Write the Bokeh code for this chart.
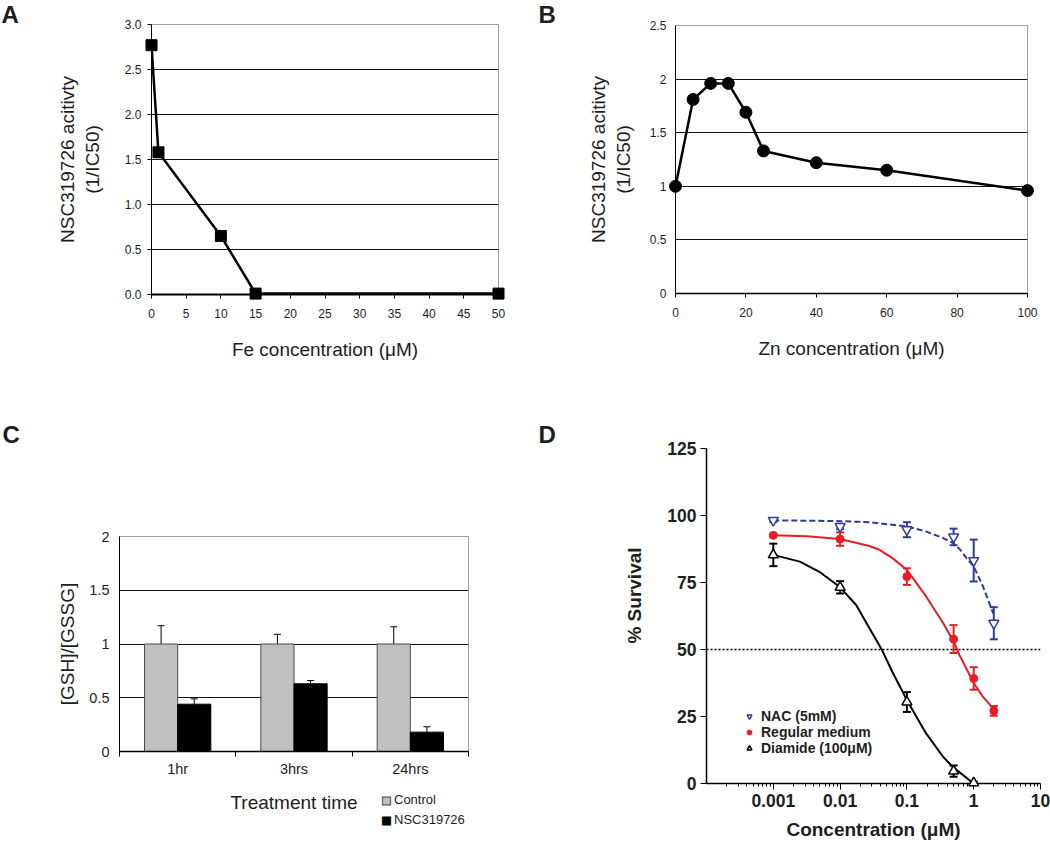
import math
from bokeh.plotting import figure
from bokeh.layouts import column, row
from bokeh.models import (ColumnDataSource, FixedTicker, Whisker, TeeHead, Legend,
                          LegendItem, Span, CustomJSTickFormatter,
                          PrintfTickFormatter, Range1d)
from bokeh.core.properties import value
from bokeh.embed import file_html
from bokeh.resources import INLINE

FONT = "Liberation Sans"

# ---------------- data ----------------
# Panel A
fe_conc = [0, 1, 10, 15, 50]
fe_activity = [2.77, 1.58, 0.65, 0.01, 0.01]

# Panel B
zn_conc = [0, 5, 10, 15, 20, 25, 40, 60, 100]
zn_activity = [1.00, 1.81, 1.96, 1.96, 1.69, 1.33, 1.22, 1.15, 0.96]

# Panel C
c_times = ["1hr", "3hrs", "24hrs"]
c_series = ["Control", "NSC319726"]
c_control = [1.0, 1.0, 1.0]
c_control_err = [0.17, 0.09, 0.16]
c_nsc = [0.44, 0.63, 0.18]
c_nsc_err = [0.05, 0.03, 0.05]

# Panel D  (measured points)
d_series = ["NAC (5mM)", "Regular medium", "Diamide (100\u03bcM)"]
d_conc = [0.001, 0.01, 0.1, 0.5, 1, 2]
nac_surv = [98.2, 95.9, 94.7, 92.0, 83.2, 59.8]
nac_err = [0.6, 1.0, 2.8, 3.1, 7.8, 6.0]
reg_surv = [92.6, 91.2, 77.2, 53.9, 39.2, 27.1]
reg_err = [0.5, 2.5, 3.1, 5.2, 4.2, 1.8]
dia_conc = [0.001, 0.01, 0.1, 0.5, 1]
dia_surv = [85.3, 73.2, 30.4, 4.6, 0.2]
dia_err = [4.2, 2.3, 3.7, 2.1, 0.5]

# Panel D  (fitted curves)
nac_fit_conc = [0.001, 0.01, 0.0275, 0.1, 0.195, 0.35, 0.49, 0.63, 0.78, 1.0, 1.38, 1.96]
nac_fit = [98.2, 97.9, 97.5, 95.9, 94.0, 91.6, 89.7, 87.2, 84.1, 81.0, 73.5, 63.5]
reg_fit_conc = [0.001, 0.0032, 0.01, 0.0275, 0.039, 0.061, 0.1, 0.195, 0.35, 0.5, 0.61, 1.0, 1.38, 1.96]
reg_fit = [92.6, 92.3, 91.2, 88.6, 87.2, 84.1, 79.7, 69.7, 59.8, 53.0, 48.0, 37.5, 32.3, 28.0]
dia_fit_conc = [0.001, 0.0025, 0.0049, 0.01, 0.0174, 0.0275, 0.042, 0.061, 0.1, 0.195, 0.35, 0.49, 1.0]
dia_fit = [85.3, 82.8, 79.0, 73.2, 66.6, 57.9, 50.0, 41.5, 31.1, 18.6, 9.9, 6.1, 0.0]

INK = "#1e1e1e"
BLUE = "#2F3C9C"
RED = "#EC1C24"


def make_fig(w, h, left, right, top, bottom, **kw):
    p = figure(width=w, height=h, min_border_left=left, min_border_right=right,
               min_border_top=top, min_border_bottom=bottom, toolbar_location=None,
               output_backend="svg", title=None, **kw)
    p.xgrid.visible = False
    p.background_fill_color = "white"
    p.border_fill_color = "white"
    return p


def style_axes(p, tick_size, label_size, bold=False):
    for ax in (p.xaxis[0], p.yaxis[0]):
        ax.major_label_text_font = FONT
        ax.major_label_text_font_size = tick_size
        ax.major_label_text_color = INK
        ax.axis_label_text_font = FONT
        ax.axis_label_text_font_size = label_size
        ax.axis_label_text_color = INK
        ax.axis_label_text_font_style = "bold" if bold else "normal"
        ax.major_label_text_font_style = "bold" if bold else "normal"
        ax.axis_line_color = "black"
        ax.major_tick_line_color = "black"
        ax.minor_tick_line_color = None
        ax.major_tick_in = 0


class Frame:
    """pixel geometry of a figure's frame, used to place free text outside it"""
    def __init__(self, left, top, w, h, xr, yr, xlog=False):
        self.left, self.top, self.w, self.h = left, top, w, h
        self.xr, self.yr, self.xlog = xr, yr, xlog

    def x(self, px):
        f = px / self.w
        if self.xlog:
            a, b = math.log10(self.xr[0]), math.log10(self.xr[1])
            return 10 ** (a + f * (b - a))
        return self.xr[0] + f * (self.xr[1] - self.xr[0])

    def y(self, py):
        f = (self.h - py) / self.h
        return self.yr[0] + f * (self.yr[1] - self.yr[0])


def free_text(p, fr, px, py, txt, size, bold=False, align="left", baseline="top",
              angle=0.0, color=INK, font=FONT, **extra):
    r = p.text(x=[fr.x(px)], y=[fr.y(py)], text=[txt], text_font=value(font),
                text_font_size=value(size), text_font_style="bold" if bold else "normal",
                text_align=align, text_baseline=baseline, text_color=color, angle=angle,
                **extra)
    r.level = "overlay"
    return r


# ---------------- Panel A ----------------
A_L, A_T, A_W, A_H = 151, 24, 347, 270
pA = make_fig(530, 400, A_L, 530 - A_L - A_W, A_T, 400 - A_T - A_H,
              x_range=Range1d(0, 50), y_range=Range1d(0, 3))
fA = Frame(A_L, A_T, A_W, A_H, (0, 50), (0, 3))
style_axes(pA, "12px", "19px")
pA.outline_line_color = "#a0a0a0"
pA.xaxis.ticker = FixedTicker(ticks=list(range(0, 51, 5)))
pA.yaxis.ticker = FixedTicker(ticks=[0, 0.5, 1, 1.5, 2, 2.5, 3])
pA.yaxis.formatter = PrintfTickFormatter(format="%.1f")
pA.ygrid.ticker = FixedTicker(ticks=[0.5, 1, 1.5, 2, 2.5])
pA.ygrid.grid_line_color = "#111111"
pA.xaxis.major_tick_out = 4
pA.yaxis.major_tick_out = 4
pA.xaxis.axis_line_width = 2
pA.xaxis.major_label_standoff = 10
pA.yaxis.major_label_standoff = 6
pA.xaxis.axis_label = "Fe concentration (\u03bcM)"
pA.yaxis.axis_label = "NSC319726 acitivty\n(1/IC50)"
pA.xaxis.axis_label_standoff = 18
pA.yaxis.axis_label_standoff = 19
srcA = ColumnDataSource(dict(x=fe_conc, y=fe_activity))
pA.line("x", "y", source=srcA, line_color="black", line_width=2.5)
rA = pA.scatter("x", "y", source=srcA, marker="square", size=11,
                fill_color="black", line_color="black")
rA.level = "overlay"
free_text(pA, fA, 1 - A_L, 0 - A_T, "A", "24px", bold=True)

# ---------------- Panel B ----------------
B_X0 = 530
B_L, B_T, B_W, B_H = 675 - B_X0, 25, 352, 268
pB = make_fig(520, 400, B_L, 520 - B_L - B_W, B_T, 400 - B_T - B_H,
              x_range=Range1d(0, 100), y_range=Range1d(0, 2.5))
fB = Frame(B_L, B_T, B_W, B_H, (0, 100), (0, 2.5))
style_axes(pB, "12px", "19px")
pB.outline_line_color = "#a0a0a0"
pB.xaxis.ticker = FixedTicker(ticks=list(range(0, 101, 20)))
pB.yaxis.ticker = FixedTicker(ticks=[0, 0.5, 1, 1.5, 2, 2.5])
pB.yaxis.formatter = CustomJSTickFormatter(code="return String(tick)")
pB.ygrid.ticker = FixedTicker(ticks=[0.5, 1, 1.5, 2])
pB.ygrid.grid_line_color = "#111111"
pB.xaxis.major_tick_out = 4
pB.yaxis.major_tick_out = 0
pB.xaxis.axis_line_width = 1.5
pB.xaxis.major_label_standoff = 10
pB.yaxis.major_label_standoff = 9
pB.xaxis.axis_label = "Zn concentration (\u03bcM)"
pB.yaxis.axis_label = "NSC319726 acitivty\n(1/IC50)"
pB.xaxis.axis_label_standoff = 18
pB.yaxis.axis_label_standoff = 13
srcB = ColumnDataSource(dict(x=zn_conc, y=zn_activity))
pB.line("x", "y", source=srcB, line_color="black", line_width=2.5)
rB = pB.scatter("x", "y", source=srcB, marker="circle", size=12,
                fill_color="black", line_color="black")
rB.level = "overlay"
free_text(pB, fB, 538 - 675, 0 - B_T, "B", "24px", bold=True)

# ---------------- Panel C ----------------
C_Y0 = 400
C_L, C_T, C_W, C_H = 119, 536 - C_Y0, 349, 215
pC = make_fig(530, 442, C_L, 530 - C_L - C_W, C_T, 442 - C_T - C_H,
              x_range=Range1d(0, 3), y_range=Range1d(0, 2))
fC = Frame(C_L, C_T, C_W, C_H, (0, 3), (0, 2))
style_axes(pC, "14.5px", "19px")
pC.outline_line_color = "#a0a0a0"
pC.xaxis.ticker = FixedTicker(ticks=[0.5, 1.5, 2.5], minor_ticks=[0, 1, 2, 3])
pC.xaxis.formatter = CustomJSTickFormatter(args=dict(names=c_times),
                                           code="return names[Math.floor(tick)]")
pC.xaxis.major_tick_out = 0
pC.xaxis.minor_tick_line_color = "black"
pC.xaxis.minor_tick_out = 5
pC.xaxis.minor_tick_in = 0
pC.xaxis.axis_line_width = 1.5
pC.yaxis.ticker = FixedTicker(ticks=[0, 0.5, 1, 1.5, 2])
pC.yaxis.formatter = CustomJSTickFormatter(code="return String(tick)")
pC.yaxis.major_tick_out = 0
pC.ygrid.ticker = FixedTicker(ticks=[0.5, 1, 1.5])
pC.ygrid.grid_line_color = "#111111"
pC.xaxis.major_label_standoff = 4
pC.yaxis.major_label_standoff = 10
pC.xaxis.axis_label = "Treatment time"
pC.yaxis.axis_label = "[GSH]/[GSSG]"
pC.xaxis.axis_label_standoff = 12
pC.yaxis.axis_label_standoff = 8
bar_w = 0.285
ctrl_x = [i + 0.5 - bar_w / 2 for i in range(len(c_times))]
nsc_x = [i + 0.5 + bar_w / 2 for i in range(len(c_times))]
srcC1 = ColumnDataSource(dict(x=ctrl_x, top=c_control,
                              up=[v + e for v, e in zip(c_control, c_control_err)],
                              lo=[v - e for v, e in zip(c_control, c_control_err)]))
srcC2 = ColumnDataSource(dict(x=nsc_x, top=c_nsc,
                              up=[v + e for v, e in zip(c_nsc, c_nsc_err)],
                              lo=[v - e for v, e in zip(c_nsc, c_nsc_err)]))
C_FILLS = ["#C0C0C0", "black"]
C_LINES = ["#4a4a4a", "black"]
pC.vbar(x="x", top="top", width=bar_w, source=srcC1, fill_color=C_FILLS[0],
        line_color=C_LINES[0], line_width=1)
pC.vbar(x="x", top="top", width=bar_w, source=srcC2, fill_color=C_FILLS[1],
        line_color=C_LINES[1], line_width=1)
for src in (srcC1, srcC2):
    pC.add_layout(Whisker(base="x", upper="up", lower="lo", source=src,
                          line_color="black", line_width=1,
                          upper_head=TeeHead(size=7, line_color="black", line_width=1),
                          lower_head=TeeHead(size=7, line_color="black", line_width=1)))
# legend of panel C sits below the frame, so it is drawn as free (unclipped) text
for k, name in enumerate(c_series):
    py = 799 - C_Y0 - C_T + 20 * k
    free_text(pC, fC, 386 - C_L, py, "\u25a0", "10.5px", align="center",
              baseline="middle", color=C_FILLS[k], font="DejaVu Sans",
              text_outline_color=C_LINES[k])
    free_text(pC, fC, 393.5 - C_L, py, name, "13px", baseline="middle")
free_text(pC, fC, 2 - C_L, 420 - C_Y0 - C_T, "C", "24px", bold=True)

# ---------------- Panel D ----------------
D_X0, D_Y0 = 530, 400
D_L, D_T, D_W, D_H = 706 - D_X0, 448 - D_Y0, 334, 335
pD = make_fig(520, 442, D_L, 520 - D_L - D_W, D_T, 442 - D_T - D_H, x_axis_type="log",
              x_range=Range1d(1e-4, 10), y_range=Range1d(0, 125))
fD = Frame(D_L, D_T, D_W, D_H, (1e-4, 10), (0, 125), xlog=True)
style_axes(pD, "17.5px", "19px", bold=True)
pD.outline_line_color = None
pD.ygrid.visible = False
pD.xaxis.ticker = FixedTicker(ticks=[0.001, 0.01, 0.1, 1, 10],
                              minor_ticks=[m * 10.0 ** e for e in range(-4, 1) for m in range(2, 10)])
pD.xaxis.formatter = CustomJSTickFormatter(code="return tick.toString()")
pD.xaxis.major_tick_out = 6
pD.xaxis.minor_tick_line_color = "black"
pD.xaxis.minor_tick_out = 3
pD.xaxis.minor_tick_in = 0
pD.xaxis.major_label_standoff = 4
pD.yaxis.ticker = FixedTicker(ticks=[0, 25, 50, 75, 100, 125])
pD.yaxis.major_tick_out = 6
pD.yaxis.major_label_standoff = 4
pD.xaxis.axis_line_width = 1.5
pD.yaxis.axis_line_width = 1.5
pD.xaxis.axis_label = "Concentration (\u03bcM)"
pD.xaxis.axis_label_standoff = 9
free_text(pD, fD, 634 - 706, 595 - 448, "% Survival", "19px", bold=True,
          align="center", baseline="middle", angle=math.pi / 2)
pD.add_layout(Span(location=50, dimension="width", line_color="black",
                   line_width=1.5, line_dash="2 2"))

pD.line(nac_fit_conc, nac_fit, line_color=BLUE, line_width=2, line_dash="6 3")
pD.line(reg_fit_conc, reg_fit, line_color=RED, line_width=2)
pD.line(dia_fit_conc, dia_fit, line_color="black", line_width=2)


def err_src(xs, ys, es):
    return ColumnDataSource(dict(x=xs, y=ys,
                                 up=[a + b for a, b in zip(ys, es)],
                                 lo=[a - b for a, b in zip(ys, es)]))


sN = err_src(d_conc, nac_surv, nac_err)
sR = err_src(d_conc, reg_surv, reg_err)
sDi = err_src(dia_conc, dia_surv, dia_err)
for src, col in ((sN, BLUE), (sR, RED), (sDi, "black")):
    pD.add_layout(Whisker(base="x", upper="up", lower="lo", source=src,
                          line_color=col, line_width=2,
                          upper_head=TeeHead(size=8, line_color=col, line_width=2),
                          lower_head=TeeHead(size=8, line_color=col, line_width=2)))
rN = pD.scatter("x", "y", source=sN, marker="inverted_triangle", size=10,
                fill_color="white", line_color=BLUE, line_width=1.5)
rR = pD.scatter("x", "y", source=sR, marker="circle", size=8,
                fill_color=RED, line_color=RED)
rDi = pD.scatter("x", "y", source=sDi, marker="triangle", size=10,
                 fill_color="white", line_color="black", line_width=1.5)
for r in (rN, rR, rDi):
    r.level = "overlay"
legD = Legend(items=[LegendItem(label=d_series[0], renderers=[rN]),
                     LegendItem(label=d_series[1], renderers=[rR]),
                     LegendItem(label=d_series[2], renderers=[rDi])],
              location=(37, 27), orientation="vertical")
legD.glyph_width = 12
legD.glyph_height = 12
legD.label_height = 14
legD.label_standoff = 6
legD.padding = 0
legD.spacing = 0
legD.margin = 0
legD.border_line_color = None
legD.background_fill_alpha = 0
legD.label_text_font = FONT
legD.label_text_font_size = "14px"
legD.label_text_font_style = "bold"
legD.label_text_line_height = 1.0
legD.label_text_color = INK
pD.add_layout(legD)
free_text(pD, fD, 538 - 706, 420 - 448, "D", "24px", bold=True)

# each figure is wrapped on its own so that row siblings do not align their frames
layout = column(row(column(pA), column(pB)), row(column(pC), column(pD)))
open("out.html", "w").write(file_html(layout, INLINE))
